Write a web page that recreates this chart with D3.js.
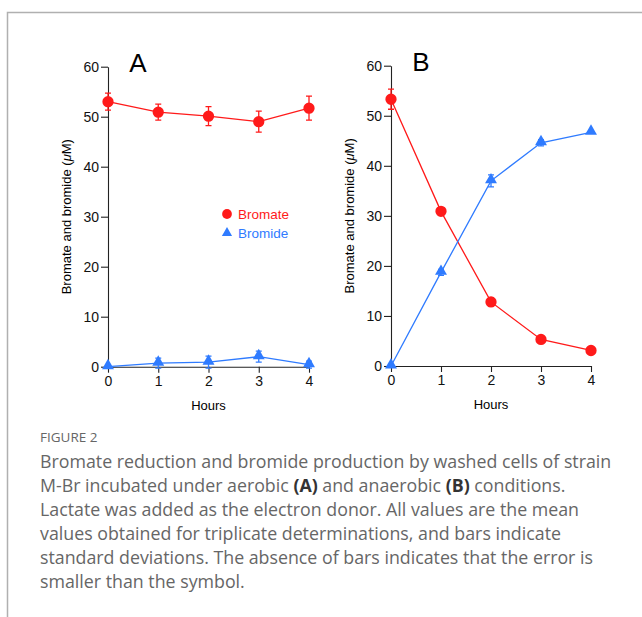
<!DOCTYPE html>
<html>
<head>
<meta charset="utf-8">
<script src="https://cdn.jsdelivr.net/npm/d3@7"></script>
<style>
  body { margin: 0; background: #fff; }
  svg { display: block; }
</style>
</head>
<body>
<div id="chart"></div>
<script>
const hours = [0, 1, 2, 3, 4];
const yTicks = [0, 10, 20, 30, 40, 50, 60];

// panel A (aerobic)
const aBromate = [53.0, 50.9, 50.1, 49.0, 51.7];
const aBromateSd = [1.7, 1.6, 1.9, 2.1, 2.4];
const aBromide = [0, 0.7, 0.9, 2.0, 0.4];
const aBromideSd = [0, 1.0, 1.2, 1.1, 0.7];

// panel B (anaerobic)
const bBromate = [53.3, 30.9, 12.8, 5.3, 3.1];
const bBromateSd = [2.0, 0.5, 0.8, 0, 0];
const bBromide = [0, 18.7, 37.0, 44.6, 46.7];
const bBromideSd = [0, 0.6, 1.2, 0.6, 0];

const caption = [
  [["Bromate reduction and bromide production by washed cells of strain", false]],
  [["M-Br incubated under aerobic ", false], ["(A)", true], [" and anaerobic ", false], ["(B)", true], [" conditions.", false]],
  [["Lactate was added as the electron donor. All values are the mean", false]],
  [["values obtained for triplicate determinations, and bars indicate", false]],
  [["standard deviations. The absence of bars indicates that the error is", false]],
  [["smaller than the symbol.", false]]
];

const red = "#ff1a1a", blue = "#2f7bff";
const width = 642, height = 617;

const svg = d3.select("#chart").append("svg")
  .attr("width", width)
  .attr("height", height)
  .style("font-family", "'Liberation Sans', Arial, sans-serif");

// frame lines
svg.append("path")
  .attr("d", "M7.5,617V12.5H642")
  .attr("fill", "none")
  .attr("stroke", "#b0b0b0")
  .attr("stroke-width", 1.5);

function panel(letter, left, right, bottom, top, bromate, bromateSd, bromide, bromideSd, legend) {
  const x = d3.scaleLinear().domain([0, 4]).range([left, right]);
  const y = d3.scaleLinear().domain([0, 60]).range([bottom, top]);
  const g = svg.append("g");

  g.append("g")
    .attr("transform", `translate(${left},0)`)
    .call(d3.axisLeft(y).tickValues(yTicks).tickFormat(d3.format("d")).tickSize(7).tickPadding(2).tickSizeOuter(0))
    .call(a => a.attr("font-size", 14).attr("font-family", null))
    .call(a => a.selectAll("text").attr("fill", "#111"))
    .call(a => a.selectAll("line,path").attr("stroke", "#222").attr("stroke-width", 1.1));

  g.append("g")
    .attr("transform", `translate(0,${bottom})`)
    .call(d3.axisBottom(x).tickValues(hours).tickFormat(d3.format("d")).tickSize(6).tickPadding(3).tickSizeOuter(0))
    .call(a => a.attr("font-size", 14).attr("font-family", null))
    .call(a => a.selectAll("text").attr("fill", "#111"))
    .call(a => a.selectAll("line,path").attr("stroke", "#222").attr("stroke-width", 1.1));

  g.append("text")
    .attr("x", (left + right) / 2)
    .attr("y", bottom + 43)
    .attr("text-anchor", "middle")
    .attr("font-size", 13)
    .text("Hours");

  g.append("text")
    .attr("transform", `translate(${left - 37},${(top + bottom) / 2}) rotate(-90)`)
    .attr("text-anchor", "middle")
    .attr("font-size", 13)
    .text("Bromate and bromide (")
    .call(t => t.append("tspan").attr("font-style", "italic").text("\u03bc"))
    .call(t => t.append("tspan").text("M)"));

  g.append("text")
    .attr("x", left + 30)
    .attr("y", top + 5)
    .attr("text-anchor", "middle")
    .attr("font-size", 26)
    .text(letter);

  const series = [
    { vals: bromate, sd: bromateSd, color: red, shape: "circle" },
    { vals: bromide, sd: bromideSd, color: blue, shape: "triangle" }
  ];

  const line = d3.line().x((d, i) => x(hours[i])).y(d => y(d));
  const circle = d3.symbol(d3.symbolCircle, 100);
  const tri = d3.symbol(d3.symbolTriangle, 62);

  series.forEach(s => {
    g.append("path")
      .attr("d", line(s.vals))
      .attr("fill", "none")
      .attr("stroke", s.color)
      .attr("stroke-width", 1.3);

    const eb = g.append("g").attr("stroke", s.color).attr("stroke-width", 1.3);
    s.vals.forEach((v, i) => {
      if (!s.sd[i]) return;
      const cx = x(hours[i]), y1 = y(v + s.sd[i]), y2 = y(v - s.sd[i]);
      eb.append("path").attr("d", `M${cx},${y1}V${y2}M${cx - 3},${y1}H${cx + 3}M${cx - 3},${y2}H${cx + 3}`);
    });

    g.selectAll(null)
      .data(s.vals)
      .join("path")
      .attr("transform", (d, i) => `translate(${x(hours[i])},${y(d) - (s.shape === "triangle" ? 1 : 0)})`)
      .attr("d", s.shape === "circle" ? circle : tri)
      .attr("fill", s.color);
  });

  if (legend) {
    const lg = g.append("g").attr("font-size", 13.5);
    lg.append("path").attr("transform", "translate(227,214)").attr("d", d3.symbol(d3.symbolCircle, 75)).attr("fill", red);
    lg.append("text").attr("x", 238).attr("y", 219).attr("fill", red).text("Bromate");
    lg.append("path").attr("transform", "translate(227,233)").attr("d", d3.symbol(d3.symbolTriangle, 45)).attr("fill", blue);
    lg.append("text").attr("x", 238).attr("y", 238).attr("fill", blue).text("Bromide");
  }
}

panel("A", 108, 309, 366.7, 66.7, aBromate, aBromateSd, aBromide, aBromideSd, true);
panel("B", 391, 591, 366, 65.7, bBromate, bBromateSd, bBromide, bBromideSd, false);

// caption
const cap = svg.append("g").attr("font-family", "'Open Sans', 'Noto Sans', sans-serif");
cap.append("text")
  .attr("x", 40)
  .attr("y", 442)
  .attr("font-size", 13.5)
  .attr("fill", "#666")
  .text("FIGURE 2");

caption.forEach((ln, i) => {
  const t = cap.append("text")
    .attr("x", 40)
    .attr("y", 468 + i * 24)
    .attr("font-size", 17.8)
    .attr("fill", "#666");
  ln.forEach(([s, b]) => t.append("tspan").attr("font-weight", b ? "bold" : null).attr("fill", b ? "#333" : null).text(s));
});
</script>
</body>
</html>
